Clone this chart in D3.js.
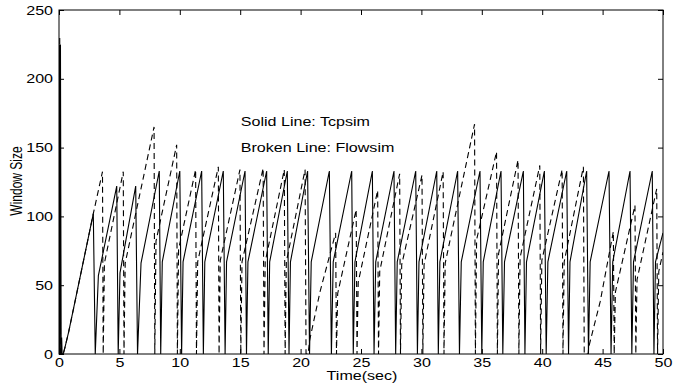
<!DOCTYPE html>
<html>
<head>
<meta charset="utf-8">
<script src="https://cdn.jsdelivr.net/npm/d3@7"></script>
<style>
  body { margin: 0; background: #fff; }
  text { font-family: "Liberation Sans", Arial, Helvetica, sans-serif; font-size: 12px; fill: #000; }
</style>
</head>
<body>
<div id="chart"></div>
<script>
// Tcpsim (solid) window size, [time, window]
var tcpsim = [
    [0, 0], [0.03, 225], [0.08, 0], [0.12, 225], [0.18, 0], [0.22, 12], [0.26, 0], [0.35, 0], [0.5, 5], [0.8, 16], [2.84, 102],
    [3.0, 0], [3.26, 57], [4.78, 122], [4.9, 0], [5.05, 59], [6.35, 122], [6.5, 0], [6.79, 66], [8.3, 133],
    [8.42, 0], [8.55, 67], [10.0, 133], [10.15, 0], [10.27, 67], [11.81, 133], [11.95, 0], [12.07, 67], [13.6, 133],
    [13.75, 0], [13.87, 67], [15.4, 133], [15.52, 0], [15.64, 67], [17.19, 133], [17.32, 0], [17.44, 67], [18.9, 133],
    [19.04, 0], [19.16, 67], [20.58, 133], [20.74, 0], [20.88, 67], [22.38, 133], [22.55, 0], [22.7, 67], [24.23, 133],
    [24.36, 0], [24.5, 67], [25.94, 133], [26.08, 0], [26.22, 67], [27.73, 133], [27.87, 0], [28.0, 67], [29.53, 133],
    [29.67, 0], [29.8, 67], [31.27, 133], [31.4, 0], [31.53, 67], [33.0, 133], [33.15, 0], [33.3, 67], [34.85, 133],
    [35.0, 0], [35.12, 67], [36.59, 133], [36.74, 0], [36.88, 67], [38.44, 133], [38.57, 0], [38.7, 67], [40.18, 133],
    [40.33, 0], [40.47, 67], [42.03, 133], [42.18, 0], [42.3, 67], [43.68, 133], [43.83, 0], [43.97, 67], [45.53, 133],
    [45.7, 0], [45.84, 67], [47.27, 133], [47.42, 0], [47.56, 67], [49.11, 133], [49.25, 0], [49.38, 67], [50, 88]
];

// Flowsim (broken) window size, [time, window]
var flowsim = [
    [0, 0], [0.06, 231], [0.13, 0], [0.35, 0], [0.5, 5], [0.8, 16], [2.84, 102], [3.6, 132.5],
    [3.66, 0], [3.76, 66], [5.32, 132.5], [5.38, 0], [5.48, 66], [7.87, 165], [7.93, 0], [8.03, 82], [9.74, 152],
    [9.8, 0], [9.9, 76], [11.31, 134], [11.38, 0], [11.48, 67], [13.19, 136], [13.25, 0], [13.35, 68], [14.98, 134],
    [15.05, 0], [15.15, 67], [16.9, 135], [16.97, 0], [17.07, 67], [18.65, 134], [18.72, 0], [18.82, 67], [20.37, 134],
    [20.45, 0], [20.62, 0], [20.75, 10], [21.6, 45], [22.9, 88], [22.97, 0], [23.07, 44], [24.6, 105],
    [24.67, 0], [24.77, 52], [26.38, 119], [26.45, 0], [26.55, 60], [28.2, 131], [28.27, 0], [28.37, 65], [30.05, 130],
    [30.12, 0], [30.22, 65], [31.8, 132.5], [31.87, 0], [31.97, 66], [34.4, 167], [34.47, 0], [34.57, 83], [36.22, 147],
    [36.29, 0], [36.39, 73], [38.0, 141], [38.07, 0], [38.17, 70], [39.8, 137], [39.87, 0], [39.97, 68], [41.65, 134],
    [41.72, 0], [41.82, 67], [43.41, 136], [43.48, 0], [43.8, 0], [43.85, 5], [44.8, 38], [45.89, 89],
    [45.96, 0], [46.06, 45], [47.68, 108], [47.75, 0], [47.85, 54], [49.48, 120], [49.55, 0], [49.65, 60], [50, 74]
];

var xTicks = [0, 5, 10, 15, 20, 25, 30, 35, 40, 45, 50];
var yTicks = [0, 50, 100, 150, 200, 250];
var legendLines = ["Solid Line: Tcpsim", "Broken Line: Flowsim"];

var STRETCH = 1.34; // text in the picture is wider than it is tall

var margin = {
        top: 10,
        right: 10,
        bottom: 29,
        left: 59
    },
    width = 673 - margin.left - margin.right,
    height = 383 - margin.top - margin.bottom;

var x = d3.scaleLinear()
    .domain([0, 50])
    .range([0, width]);

var y = d3.scaleLinear()
    .domain([0, 250])
    .range([height, 0]);

var line = d3.line()
    .x(function(d) { return x(d[0]); })
    .y(function(d) { return y(d[1]); });

var svg = d3.select("#chart").append("svg")
    .attr("width", 673)
    .attr("height", 383)
    .append("g")
    .attr("transform", "translate(" + margin.left + "," + margin.top + ")");

svg.append("clipPath")
    .attr("id", "plot")
    .append("rect")
    .attr("width", width)
    .attr("height", height);

// axes, ticks pointing inward on all four sides
var bottomAxis = svg.append("g")
    .attr("transform", "translate(0," + height + ")")
    .call(d3.axisBottom(x).tickValues(xTicks).tickSize(-5).tickFormat(d3.format("d")));
bottomAxis.selectAll("text")
    .attr("y", 13)
    .attr("dy", 0)
    .attr("transform", "scale(" + STRETCH + ",1)");

svg.append("g")
    .call(d3.axisTop(x).tickValues(xTicks).tickSize(-5).tickFormat(""));

var leftAxis = svg.append("g")
    .call(d3.axisLeft(y).tickValues(yTicks).tickSize(-5).tickFormat(d3.format("d")));
leftAxis.selectAll("text")
    .attr("x", -6 / STRETCH)
    .attr("dy", "0.34em")
    .attr("transform", "scale(" + STRETCH + ",1)");

svg.append("g")
    .attr("transform", "translate(" + width + ",0)")
    .call(d3.axisRight(y).tickValues(yTicks).tickSize(-5).tickFormat(""));

svg.selectAll(".domain").remove();
svg.selectAll(".tick line").attr("stroke", "#000");
svg.selectAll(".tick text")
    .style("font-family", "'Liberation Sans', Arial, sans-serif")
    .style("font-size", "12px")
    .attr("fill", "#000");

svg.append("rect")
    .attr("width", width)
    .attr("height", height)
    .attr("fill", "none")
    .attr("stroke", "#000")
    .attr("stroke-width", 1);

var lines = svg.append("g").attr("clip-path", "url(#plot)");

lines.append("path")
    .datum(tcpsim)
    .attr("d", line)
    .attr("fill", "none")
    .attr("stroke", "#000")
    .attr("stroke-width", 1.1);

lines.append("path")
    .datum(flowsim)
    .attr("d", line)
    .attr("fill", "none")
    .attr("stroke", "#000")
    .attr("stroke-width", 1.1)
    .attr("stroke-dasharray", "6,4");

// legend text inside plot
svg.selectAll(".note")
    .data(legendLines)
    .enter().append("text")
    .attr("class", "note")
    .attr("transform", function(d, i) {
        return "translate(" + x(15.05) + "," + (116 + i * 26) + ") scale(" + STRETCH + ",1)";
    })
    .text(function(d) { return d; });

// axis titles
svg.append("text")
    .attr("transform", "translate(" + (x(25) + 1) + "," + (height + 26) + ") scale(" + STRETCH + ",1)")
    .attr("text-anchor", "middle")
    .text("Time(sec)");

svg.append("text")
    .attr("transform", "translate(" + (22 - margin.left) + "," + (181 - margin.top) + ") scale(" + STRETCH + ",1) rotate(-90)")
    .attr("text-anchor", "middle")
    .text("Window Size");
</script>
</body>
</html>
